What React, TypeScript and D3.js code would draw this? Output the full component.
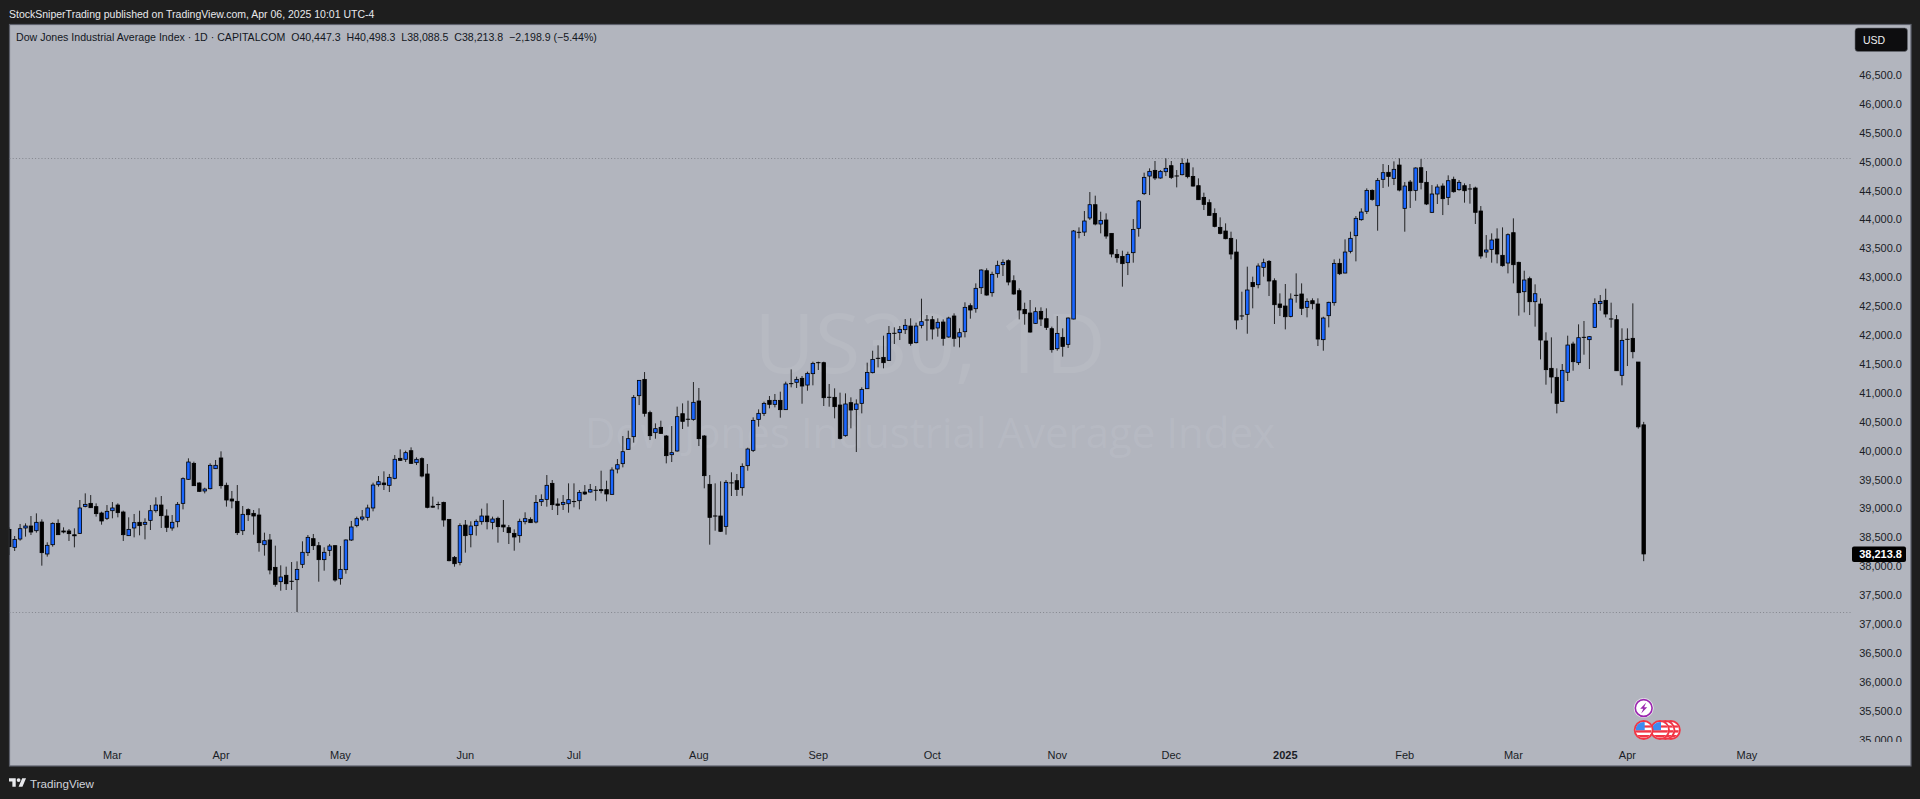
import React from "react";
import * as d3 from "d3";

const opens = [
38639,38328,38472,38663,38697,38616,38766,38213,38374,38743,
38611,38611,38545,38570,39037,39089,39032,38922,38830,38962,
39060,38939,38530,38663,38761,38726,38795,38962,39060,38870,
38663,38772,39089,39505,39781,39441,39303,39343,39689,39874,
39401,39164,39124,38616,38980,38916,38887,38374,38455,37982,
37734,37844,37740,37769,38034,38236,38478,38357,38115,38276,
38357,37786,37942,38455,38703,38818,38847,39009,39412,39441,
39401,39522,39868,39851,40000,39793,39862,39597,39040,39068,
39106,38812,38155,38068,38714,38547,38703,38772,38870,38760,
38830,38714,38668,38570,38530,38772,38812,38766,39118,39158,
39435,39078,39072,39083,39120,39135,39285,39285,39315,39326,
39326,39245,39683,39776,40023,40243,40952,41234,40658,40312,
40404,40254,39931,39995,40640,40544,40542,40860,40254,39418,
38870,38870,38691,39443,39481,39360,39741,40006,40542,40646,
40871,40802,40871,40710,41160,41183,41252,41136,41333,41523,
41523,40924,40923,40790,40260,40831,40715,40819,41073,41350,
41598,41615,41563,42031,42042,42094,42157,41869,42169,42261,
42267,42123,42226,41967,42330,41967,42059,42509,42457,42820,
43114,42734,43063,43218,43287,42941,42768,42445,42382,42203,
42411,42284,42111,41765,41961,41840,42278,43778,43783,44026,
44256,43922,43991,43760,43397,43362,43253,43426,43847,44447,
44752,44850,44718,44827,44931,44753,44775,44977,44746,44585,
44383,44291,44106,43864,43801,43674,43437,42331,42359,42912,
42872,43172,43276,42941,42538,42503,42324,42688,42711,42480,
42595,42538,41921,42336,42561,43241,43074,43449,43720,43997,
44141,44504,44239,44695,44816,44712,44942,44193,44648,44504,
44896,44643,44124,44441,44579,44383,44695,44516,44585,44528,
44545,44147,43437,43483,43662,43380,43247,43772,43259,42751,
42976,42578,42538,41898,41425,41269,40854,41356,41846,41523,
41961,41921,42134,42544,42601,42279,42267,41304,41927,41944,
41534,40447.3];

const highs = [
38674,38524,38732,38743,38870,38916,38812,38415,38761,38812,
38674,38645,38657,39147,39262,39233,39089,38945,39060,39112,
39089,38962,38847,38905,38962,38830,39060,39193,39216,38985,
38887,39112,39539,39868,39810,39453,39360,39781,39839,39989,
39447,39303,39406,39043,39003,38974,39003,38582,38559,38357,
38017,37994,38074,38086,38432,38541,38559,38420,38328,38386,
38363,38351,38466,38784,38859,38974,39066,39447,39562,39643,
39597,39925,40023,40000,40058,39885,39885,39770,39205,39118,
39118,38812,38178,38743,38801,38778,38812,38997,39089,38859,
38859,39147,38714,38639,38824,38934,38847,39233,39245,39579,
39493,39176,39233,39435,39435,39320,39406,39424,39389,39654,
39481,39712,39856,40254,40346,40963,41223,41361,40692,40473,
40519,40271,40427,40762,40819,40865,41188,41085,40271,39579,
39435,39470,39493,39626,39597,39781,40052,40577,40715,40848,
40946,40981,41021,41194,41407,41281,41292,41367,41540,41540,
41540,41154,41079,41004,40992,40923,40888,41096,41523,41730,
41823,41990,42157,42134,42157,42278,42290,42215,42630,42347,
42330,42290,42272,42318,42376,42117,42567,42549,42895,43138,
43155,43097,43287,43310,43310,43034,42809,42561,42607,42480,
42480,42463,42146,42330,42117,42307,43818,43864,44147,44475,
44412,44135,44106,43760,43489,43460,43443,44008,44337,44810,
44885,45012,44856,45058,45012,44856,45058,45046,44902,44712,
44464,44348,44193,44037,43933,43789,43657,42751,43184,43011,
43241,43322,43299,42982,42722,42884,42722,43068,42895,42636,
42636,42636,42318,42578,43310,43322,43656,43789,44060,44193,
44539,44521,44718,44960,44942,45006,45058,44648,44683,44902,
45046,44839,44596,44608,44625,44764,44741,44683,44625,44614,
44568,44233,43731,43760,43847,43864,43760,44020,43270,43114,
43011,42878,42636,42048,41961,41425,41500,41990,41886,42186,
42244,41984,42636,42694,42803,42561,42347,42117,42117,42549,
41534,40498.3];

const lows = [
38195,38265,38443,38513,38541,38582,38011,38167,38340,38541,
38570,38438,38328,38559,39020,39009,38859,38720,38801,38830,
38847,38438,38524,38501,38536,38466,38628,38928,38663,38593,
38616,38674,38985,39493,39389,39285,39262,39331,39683,39343,
39032,39003,38541,38541,38784,38547,38253,38184,37861,37647,
37578,37590,37590,37209,37970,38178,38282,37734,37924,38178,
37734,37682,37872,38438,38674,38789,38789,38951,39378,39320,
39285,39505,39822,39804,39770,39752,39539,39003,39014,38985,
38686,38086,37993,38017,38236,38328,38530,38720,38639,38639,
38409,38593,38386,38270,38409,38726,38749,38743,39043,39032,
38974,38887,38974,38928,39020,38985,39233,39274,39135,39262,
39124,39239,39608,39712,40012,40139,40790,40589,40185,40208,
40289,39781,39804,39983,40375,40416,40519,40081,39349,38374,
38616,38593,38547,39216,39216,39222,39654,39977,40416,40600,
40733,40750,40571,40704,41096,41085,40813,41038,41131,41396,
40773,40762,40560,40196,40242,40387,39977,40646,41067,41338,
41442,41425,41557,41846,41915,42019,41817,41857,42117,41903,
41926,41973,41817,41955,41800,41788,41961,42284,42388,42711,
42682,42665,42993,43022,42861,42699,42272,42180,42042,42192,
42157,42088,41696,41730,41627,41777,42272,43674,43714,43991,
43899,43760,43668,43345,43253,42838,43039,43253,43703,44423,
44423,44683,44706,44752,44700,44556,44764,44712,44568,44337,
44164,44066,43864,43743,43657,43310,42099,42261,42024,42463,
42809,43011,42676,42192,42330,42099,42307,42561,42347,42307,
42445,41811,41730,42134,42509,43039,43068,43414,43276,43979,
44095,44325,43806,44545,44568,44596,44487,43789,44199,44325,
44521,44250,44112,44268,44077,44250,44464,44498,44291,44274,
43922,43322,43339,43253,43241,43184,43068,42895,42336,42393,
42347,42146,41580,41142,40992,40646,40848,41206,41384,41482,
41661,41413,42123,42422,42307,42128,41379,41131,41465,41598,
40381,38088.5];

const closes = [
38340,38466,38651,38697,38593,38761,38236,38363,38743,38547,
38599,38565,38541,39009,39072,39014,38911,38784,38951,39009,
38928,38547,38639,38755,38703,38761,38962,39060,38876,38674,
38761,39072,39516,39804,39395,39297,39337,39747,39747,39395,
39147,39130,38582,38899,38893,38870,38409,38443,37936,37688,
37815,37699,37738,37947,38242,38501,38357,38115,38242,38351,
37763,37947,38455,38680,38824,38853,39009,39406,39464,39412,
39539,39851,39833,39966,39781,39851,39562,39020,39037,39066,
38801,38097,38045,38703,38530,38697,38778,38870,38772,38818,
38686,38680,38582,38507,38778,38824,38755,39106,39158,39401,
39066,39055,39106,39153,39118,39279,39251,39326,39314,39314,
39251,39666,39758,39983,40208,40923,41217,40646,40260,40381,
40300,39914,39966,40589,40508,40542,40837,40208,39568,38847,
38868,38605,39453,39441,39331,39729,40029,40525,40646,40819,
40802,40871,40710,41154,41159,41234,41119,41338,41511,41522,
40917,40923,40762,40214,40808,40704,40808,41061,41355,41580,
41597,41523,42030,42030,42099,42169,41857,42157,42232,42260,
42105,42221,41944,42295,41944,42042,42480,42434,42809,43126,
42693,43051,43207,43259,42918,42711,42434,42370,42053,42405,
42278,42134,41748,42030,41805,42295,43801,43777,43974,44256,
43922,43985,43714,43403,43339,43236,43397,43829,44320,44729,
44833,44718,44833,44885,44729,44752,44971,44741,44579,44343,
44262,44072,43881,43760,43668,43403,42261,42330,42780,42838,
43195,43253,42936,42526,42480,42318,42624,42687,42463,42584,
42543,41932,42295,42567,43241,43062,43437,43674,44020,44129,
44504,44348,44677,44810,44746,44868,44510,44579,44498,44891,
44643,44268,44441,44562,44360,44671,44481,44643,44498,44527,
44124,43368,43472,43645,43403,43201,43737,43218,42734,42953,
42578,42716,41915,41402,41275,40819,41390,41828,41540,41955,
41960,41973,42549,42584,42365,42278,41384,41909,41926,41713,
40412.7,38213.8];

const priceTicks = d3.range(35000, 47000, 500);
const timeLabels = ["Mar","Apr","May","Jun","Jul","Aug","Sep","Oct","Nov","Dec","2025","Feb","Mar","Apr","May"];
const timeIndex = [19,39,61,84,104,127,149,170,193,214,235,257,277,298,320];
const lastPrice = 38213.8;
const periodHigh = 45064;
const periodLow = 37209;
const eventIndex = [301, 304, 305, 306];

const fmt = d3.format(",.1f");
const FONT = "'Liberation Sans', Arial, sans-serif";

const W = 1920, H = 799;
const pane = { l: 9.5, t: 24.5, r: 1911, b: 766 };
const x = d3.scaleLinear().domain([0, 301]).range([9.24, 1643.7]);
const y = d3.scaleLinear().domain([35000, 46500]).range([739.7, 75]);

function Flag({ cx, cy }: { cx: number; cy: number }) {
  const id = `flag${Math.round(cx)}`;
  return (
    <g>
      <clipPath id={id}><circle cx={cx} cy={cy} r={8} /></clipPath>
      <circle cx={cx} cy={cy} r={9} fill="#fff" stroke="#f23645" strokeWidth={1.9} />
      <g clipPath={`url(#${id})`}>
        <rect x={cx - 8} y={cy + 0.2} width={16} height={2.4} fill="#f23645" />
        <rect x={cx - 8} y={cy + 5} width={16} height={2.6} fill="#f23645" />
        <rect x={cx - 8} y={cy - 4.6} width={16} height={2.2} fill="#f23645" />
        <rect x={cx - 8} y={cy - 8} width={9} height={8.2} fill="#3d8bf0" />
      </g>
    </g>
  );
}

export default function App() {
  const n = closes.length;
  const candleW = 3.5;
  return (
    <svg width={W} height={H} viewBox={`0 0 ${W} ${H}`} style={{ position: "fixed", left: 0, top: 0, display: "block" }}>
      <defs>
        <clipPath id="plot"><rect x={pane.l} y={pane.t} width={pane.r - pane.l} height={pane.b - pane.t} /></clipPath>
        <clipPath id="axis"><rect x={1840} y={pane.t} width={70} height={742 - pane.t} /></clipPath>
      </defs>
      <rect width={W} height={H} fill="#1e1e1e" />
      <rect x={pane.l} y={pane.t} width={pane.r - pane.l} height={pane.b - pane.t} fill="#b2b5be" stroke="#5d606b" strokeWidth={1.2} />

      <text x={9} y={18} fill="#e8e9ec" fontFamily={FONT} fontSize={10.5}>StockSniperTrading published on TradingView.com, Apr 06, 2025 10:01 UTC-4</text>

      <g textAnchor="middle" fontFamily="'Open Sans', sans-serif" fill="#ffffff" fillOpacity={0.07}>
        <text x={930} y={373} fontSize={83}>US30, 1D</text>
        <text x={930} y={448} fontSize={42}>Dow Jones Industrial Average Index</text>
      </g>

      <g clipPath="url(#plot)">
        {[periodHigh, periodLow].map((v) => (
          <line key={v} x1={pane.l} x2={1851} y1={Math.round(y(v)) + 0.5} y2={Math.round(y(v)) + 0.5} stroke="#83868e" strokeWidth={1} strokeDasharray="1 2.2" />
        ))}
        {d3.range(n).map((i) => {
          const up = closes[i] > opens[i] + 1;
          const top = y(Math.max(opens[i], closes[i]));
          const bot = y(Math.min(opens[i], closes[i]));
          const isDoji = Math.abs(opens[i] - closes[i]) < 3;
          return (
            <g key={i}>
              <line x1={x(i)} x2={x(i)} y1={y(highs[i])} y2={y(lows[i])} stroke="#0a0a0a" strokeOpacity={0.85} strokeWidth={1} />
              {isDoji ? (
                <line x1={x(i) - 2.2} x2={x(i) + 2.2} y1={top} y2={top} stroke="#000" strokeWidth={1} />
              ) : (
                <rect x={x(i) - candleW / 2} y={top} width={candleW} height={Math.max(bot - top, 1)} fill={up ? "#1a66ff" : "#000"} stroke="#000" strokeWidth={0.8} />
              )}
            </g>
          );
        })}
      </g>

      <text x={16} y={41} fill="#131722" fontFamily={FONT} fontSize={10.6} style={{ whiteSpace: "pre" }}>Dow Jones Industrial Average Index · 1D · CAPITALCOM  O40,447.3  H40,498.3  L38,088.5  C38,213.8  −2,198.9 (−5.44%)</text>

      <g clipPath="url(#axis)" fill="#1a1d26" fontFamily={FONT} fontSize={11} textAnchor="end">
        {priceTicks.map((v) => (
          <text key={v} x={1902} y={y(v)} dy="0.36em">{fmt(v)}</text>
        ))}
      </g>

      <rect x={1855} y={28} width={52.5} height={23.5} rx={3} fill="#0d0d0f" stroke="#6a6d76" strokeWidth={0.6} />
      <text x={1863} y={44} fill="#f0f0f0" fontFamily={FONT} fontSize={10.5}>USD</text>

      <rect x={1852} y={y(lastPrice) - 7.5} width={54} height={15.5} rx={2} fill="#000" />
      <text x={1902} y={y(lastPrice)} dy="0.36em" textAnchor="end" fill="#fff" fontFamily={FONT} fontSize={11} fontWeight={700}>{fmt(lastPrice)}</text>

      <g fill="#1a1d26" fontFamily={FONT} fontSize={11} textAnchor="middle">
        {timeLabels.map((t, i) => (
          <text key={i} x={x(timeIndex[i])} y={759} fontWeight={t === "2025" ? 700 : 400}>{t}</text>
        ))}
      </g>

      {[eventIndex[3], eventIndex[2], eventIndex[1], eventIndex[0]].map((i) => (
        <Flag key={i} cx={x(i)} cy={730} />
      ))}
      <g>
        <circle cx={x(eventIndex[0])} cy={708} r={10} fill="#e9e9ee" />
        <circle cx={x(eventIndex[0])} cy={708} r={8.4} fill="#fff" stroke="#9c27b0" strokeWidth={1.6} />
        <path transform={`translate(${x(eventIndex[0])},708)`} d="M2.5 -5.5 L-3.5 0.8 L-0.4 0.8 L-2.5 5.5 L3.5 -0.8 L0.4 -0.8 Z" fill="#9c27b0" />
      </g>

      <g transform="translate(9,778.2) scale(0.48)" fill="#e8e9ec">
        <path d="M14 22H7V11H0V4h14v18zM28 22h-8l7.5-18h8L28 22z" transform="translate(0,-4)" />
        <circle cx={20} cy={4} r={4} />
      </g>
      <text x={30} y={788} fill="#d1d4dc" fontFamily={FONT} fontSize={11.6}>TradingView</text>
    </svg>
  );
}
